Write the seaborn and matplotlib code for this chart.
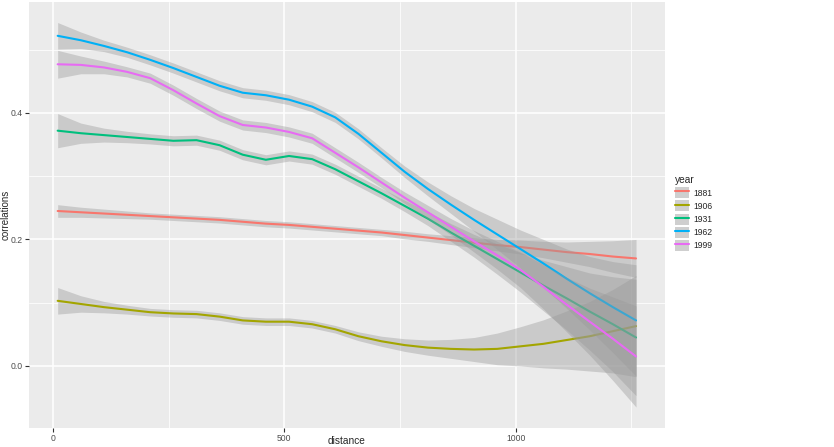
import numpy as np
import pandas as pd
import matplotlib
matplotlib.use('Agg')
import matplotlib.pyplot as plt
import seaborn as sns
from matplotlib.patches import Rectangle
from matplotlib.lines import Line2D
from matplotlib.ticker import MultipleLocator

distance = [10, 60, 110, 160, 210, 260, 310, 360, 410, 460, 510, 560, 610,
            660, 710, 760, 810, 860, 910, 960, 1010, 1060, 1110, 1160, 1210, 1260]

years = ['1881', '1906', '1931', '1962', '1999']
colors = ['#F8766D', '#A3A500', '#00BF7D', '#00B0F6', '#E76BF3']

# smoothed correlations per year
corr_1881 = [0.245, 0.243, 0.241, 0.239, 0.237, 0.235, 0.233, 0.231, 0.228, 0.225, 0.223, 0.220, 0.217,
             0.214, 0.211, 0.207, 0.203, 0.199, 0.195, 0.191, 0.188, 0.184, 0.180, 0.177, 0.173, 0.170]
corr_1906 = [0.103, 0.098, 0.093, 0.089, 0.085, 0.083, 0.082, 0.078, 0.072, 0.070, 0.070, 0.066, 0.058,
             0.047, 0.039, 0.033, 0.029, 0.027, 0.026, 0.027, 0.031, 0.035, 0.041, 0.047, 0.055, 0.063]
corr_1931 = [0.372, 0.368, 0.365, 0.362, 0.359, 0.356, 0.357, 0.349, 0.334, 0.326, 0.332, 0.327, 0.311,
             0.292, 0.273, 0.253, 0.233, 0.211, 0.190, 0.169, 0.148, 0.127, 0.107, 0.086, 0.066, 0.045]
corr_1962 = [0.522, 0.515, 0.506, 0.496, 0.484, 0.471, 0.457, 0.443, 0.432, 0.428, 0.421, 0.410, 0.393,
             0.367, 0.337, 0.307, 0.280, 0.255, 0.231, 0.208, 0.185, 0.162, 0.138, 0.115, 0.093, 0.072]
corr_1999 = [0.477, 0.476, 0.472, 0.465, 0.455, 0.436, 0.415, 0.395, 0.381, 0.377, 0.370, 0.360, 0.337,
             0.314, 0.290, 0.266, 0.243, 0.220, 0.197, 0.175, 0.152, 0.125, 0.097, 0.070, 0.043, 0.015]

# half width of the confidence band
se_1881 = [0.010, 0.008, 0.007, 0.006, 0.005, 0.005, 0.005, 0.005, 0.005, 0.005, 0.005, 0.005, 0.005,
           0.005, 0.005, 0.006, 0.006, 0.007, 0.008, 0.009, 0.011, 0.013, 0.016, 0.020, 0.025, 0.030]
se_1906 = [0.021, 0.013, 0.009, 0.007, 0.006, 0.006, 0.006, 0.006, 0.006, 0.006, 0.006, 0.006, 0.006,
           0.007, 0.008, 0.010, 0.012, 0.015, 0.019, 0.025, 0.031, 0.038, 0.046, 0.055, 0.066, 0.080]
se_1931 = [0.027, 0.016, 0.011, 0.009, 0.008, 0.008, 0.008, 0.008, 0.008, 0.008, 0.008, 0.008, 0.008,
           0.008, 0.008, 0.009, 0.011, 0.014, 0.018, 0.024, 0.031, 0.040, 0.050, 0.061, 0.075, 0.092]
se_1962 = [0.021, 0.013, 0.009, 0.008, 0.008, 0.008, 0.008, 0.008, 0.008, 0.008, 0.008, 0.008, 0.008,
           0.008, 0.008, 0.009, 0.011, 0.014, 0.018, 0.024, 0.030, 0.038, 0.047, 0.058, 0.072, 0.088]
se_1999 = [0.022, 0.014, 0.010, 0.008, 0.008, 0.008, 0.008, 0.008, 0.008, 0.008, 0.008, 0.008, 0.008,
           0.008, 0.008, 0.009, 0.011, 0.013, 0.017, 0.022, 0.028, 0.035, 0.043, 0.053, 0.066, 0.080]

corrs = [corr_1881, corr_1906, corr_1931, corr_1962, corr_1999]
ses = [se_1881, se_1906, se_1931, se_1962, se_1999]

# long table for seaborn
frames = []
for yr, c, s in zip(years, corrs, ses):
    frames.append(pd.DataFrame({'distance': distance, 'correlations': c, 'se': s, 'year': yr}))
df = pd.concat(frames, ignore_index=True)

sns.set_style('darkgrid', {'axes.facecolor': '#EBEBEB', 'grid.color': 'white'})
plt.rcParams['font.family'] = ['Liberation Sans', 'DejaVu Sans']

fig = plt.figure(figsize=(8.34, 4.47), dpi=100)
ax = fig.add_axes([0.0348, 0.0432, 0.7626, 0.9524])

# ribbon then line for each year, like geom_smooth does per group
for i, (yr, col) in enumerate(zip(years, colors)):
    sub = df[df.year == yr]
    ax.fill_between(sub.distance, sub.correlations - sub.se, sub.correlations + sub.se,
                    color='#999999', alpha=0.4, lw=0, zorder=2 + 2 * i)
    sns.lineplot(data=sub, x='distance', y='correlations', color=col, lw=1.5,
                 ax=ax, zorder=3 + 2 * i, legend=False)

ax.set_xlim(-51.9, 1322.7)
ax.set_ylim(-0.0976, 0.5755)
ax.set_xticks([0, 500, 1000])
ax.set_yticks([0.0, 0.2, 0.4])
ax.set_yticklabels(['0.0', '0.2', '0.4'])
ax.xaxis.set_minor_locator(MultipleLocator(250))
ax.yaxis.set_minor_locator(MultipleLocator(0.1))
ax.grid(which='major', color='white', lw=1.1)
ax.grid(which='minor', color='white', lw=0.55)
ax.tick_params(which='major', length=2.7, width=0.8, color='#333333', labelsize=6.2,
               labelcolor='#4D4D4D', pad=2, left=True, bottom=True)
ax.tick_params(which='minor', length=0)
for sp in ax.spines.values():
    sp.set_visible(False)
ax.set_xlabel('distance', fontsize=7.3, va='center')
ax.set_ylabel('correlations', fontsize=7, va='center')
# put the axis titles where the reference has them
ax.xaxis.set_label_coords(0.5, (427.7 - 441) / 425.7)
ax.yaxis.set_label_coords((5.5 - 29) / 636, 0.5)

# legend with grey keys like ggplot's se keys
handles = [(Rectangle((0, 0), 1, 1, facecolor='#CFCFCF', edgecolor='none'),
            Line2D([], [], color=col, lw=1.5)) for col in colors]
leg = fig.legend(handles, years, title='year', loc='upper left',
                 bbox_to_anchor=(675 / 834, 1 - 175 / 447), frameon=False,
                 fontsize=6.2, title_fontsize=7.3, handlelength=1.6, handleheight=1.6,
                 labelspacing=0.25, handletextpad=0.5, borderaxespad=0, borderpad=0)
leg._legend_box.align = 'left'

fig.savefig('out.png', dpi=100, facecolor='white')
